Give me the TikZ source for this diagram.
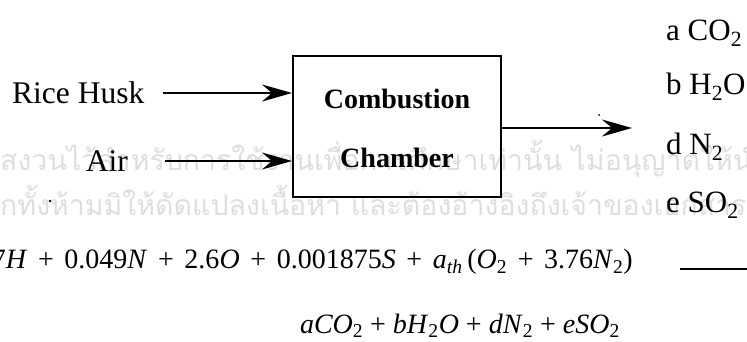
\documentclass[tikz,border=0pt]{standalone}
\usepackage{fontspec}
\setmainfont{Liberation Serif}
\newfontfamily\thaifont[Script=Thai]{Loma}
\usetikzlibrary{arrows.meta}
\newcommand\ii[1]{\textit{#1}}
\newcommand\sub[1]{\textsubscript{#1}}
\newcommand\pl{\hspace{0.38em}+\hspace{0.38em}}
\tikzset{
  lbl/.style={inner sep=0pt, font=\fontsize{31.5}{36}\selectfont},
  prod/.style={inner sep=0pt, font=\fontsize{31}{36}\selectfont},
  boxtext/.style={inner sep=0pt, font=\fontsize{28}{34}\selectfont\bfseries},
  eq/.style={inner sep=0pt, font=\fontsize{28}{32}\selectfont},
  wm/.style={inner sep=0pt, text=black!13, font=\fontsize{28.5}{34}\selectfont\thaifont},
  arr/.style={line width=1.7pt, -{Stealth[length=30pt,width=17pt,inset=10pt]}},
  chamber/.style={draw, line width=2pt, minimum width=208pt, minimum height=141pt, inner sep=0pt}
}
\begin{document}
\begin{tikzpicture}[x=1pt,y=-1pt]
\useasboundingbox (0,0) rectangle (747,341);
\clip (0,0) rectangle (747,341);
% watermark
\node[wm, anchor=base west] (wm1) at (0,170) {สงวนไว้สำหรับการใช้งานเพื่อการศึกษาเท่านั้น ไม่อนุญาตให้นำไป};
\node[wm, anchor=base west] (wm2) at (0,215) {กทั้งห้ามมิให้ดัดแปลงเนื้อหา และต้องอ้างอิงถึงเจ้าของเอกสารทุก};
% chamber
\node[chamber] (box) at (397,126.5) {};
\node[boxtext] (comb) at (397,99) {Combustion};
\node[boxtext] (cham) at (397,158) {Chamber};
% inputs
\node[lbl, anchor=west] (rh) at (12,93) {Rice Husk};
\node[lbl, anchor=east] (air) at (128,161) {Air};
\coordinate (rhs) at (163,93);
\coordinate (airs) at (165,161);
\draw[arr] (rhs) -- (rhs -| box.west);
\draw[arr] (airs) -- (airs -| box.west);
% output
\coordinate (outs) at (box.east |- 0,128);
\coordinate (outt) at (632,128);
\draw[arr] (outs) -- (outt);
\node[prod, anchor=west] (p1) at (666,33) {a CO\sub{2}};
\node[prod, anchor=west] (p2) at (666,87) {b H\sub{2}O};
\node[prod, anchor=west] (p3) at (666,147) {d N\sub{2}};
\node[prod, anchor=west] (p4) at (666,205) {e SO\sub{2}};
% equations
\node[eq, anchor=east] (eq1) at (633,262) {7\ii{H}\pl 0.049\ii{N}\pl 2.6\ii{O}\pl 0.001875\ii{S}\pl \ii{a}\sub{\ii{th}}\,(\ii{O}\sub{2}\pl 3.76\ii{N}\sub{2})};
\node[eq, anchor=east] (eq2) at (620,326) {\ii{a}\ii{CO}\sub{2} + \ii{bH}\sub{2}\ii{O} + \ii{dN}\sub{2} + \ii{eSO}\sub{2}};
\coordinate (ra) at (680,269);
\coordinate (rb) at (747,269);
\draw[line width=1.6pt] (ra) -- (rb);
% scan specks
\fill (50,201) circle (1.3pt);
\fill (599,115) circle (1pt);
\end{tikzpicture}
\end{document}
